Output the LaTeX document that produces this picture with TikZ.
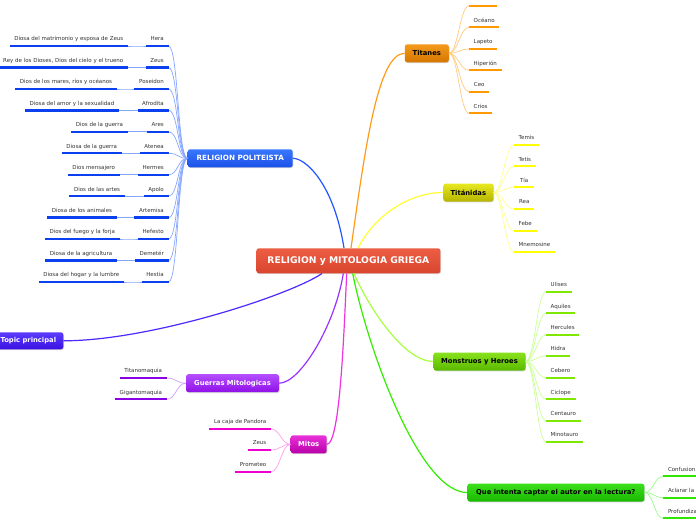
\documentclass[tikz,border=0pt]{standalone}
\usepackage{fontspec}
\setmainfont{DejaVu Sans}
\usetikzlibrary{shadows}
\definecolor{cenT}{HTML}{EC5E44}\definecolor{cenB}{HTML}{D9452E}
\definecolor{rpT}{HTML}{3A78FF}\definecolor{rpB}{HTML}{1A50E8}
\definecolor{rpL}{HTML}{2255FF}\definecolor{rpU}{HTML}{0A40F0}\definecolor{rpS}{HTML}{86A6FF}
\definecolor{tiT}{HTML}{F39A1C}\definecolor{tiB}{HTML}{D67600}
\definecolor{tiL}{HTML}{FF9A1A}\definecolor{tiU}{HTML}{FF9900}\definecolor{tiS}{HTML}{FFCB80}
\definecolor{tdT}{HTML}{E8E820}\definecolor{tdB}{HTML}{B5B500}
\definecolor{tdL}{HTML}{FFFF33}\definecolor{tdU}{HTML}{FFFF00}\definecolor{tdS}{HTML}{FFFF90}
\definecolor{mhT}{HTML}{88E21C}\definecolor{mhB}{HTML}{5AB800}
\definecolor{mhL}{HTML}{A6FF40}\definecolor{mhU}{HTML}{7FE800}\definecolor{mhS}{HTML}{CCFF99}
\definecolor{qiT}{HTML}{3CE01C}\definecolor{qiB}{HTML}{18B800}
\definecolor{qiL}{HTML}{33EE00}\definecolor{qiU}{HTML}{33E600}\definecolor{qiS}{HTML}{99FF88}
\definecolor{tpT}{HTML}{5C3CFF}\definecolor{tpB}{HTML}{3A10E0}\definecolor{tpL}{HTML}{4A2AFF}
\definecolor{guT}{HTML}{B44EFF}\definecolor{guB}{HTML}{9010E6}
\definecolor{guL}{HTML}{9933FF}\definecolor{guU}{HTML}{8A00E6}\definecolor{guS}{HTML}{D0A0FF}
\definecolor{miT}{HTML}{EA32DA}\definecolor{miB}{HTML}{B800A8}
\definecolor{miL}{HTML}{EE33E0}\definecolor{miU}{HTML}{F000D0}\definecolor{miS}{HTML}{FFA0F0}
\definecolor{leaftext}{HTML}{333333}
\tikzset{
  topic/.style={rounded corners=2.5pt, inner sep=0pt, minimum height=18pt,
    font=\bfseries\fontsize{6.8}{8}\selectfont,
    drop shadow={opacity=0.3, shadow xshift=0.7pt, shadow yshift=-0.9pt}},
  leaf/.style={font=\fontsize{5.5}{6.5}\selectfont, text=leaftext, inner xsep=4.5pt,
    inner ysep=3.8pt, text height=4.2pt, text depth=1.2pt, minimum width=20pt},
  ul/.style={line width=2.3pt},
  mainline/.style={line width=1.2pt},
  sub/.style={line width=0.7pt}
}
\begin{document}
\begin{tikzpicture}[x=1pt,y=-1pt]
\useasboundingbox (0,0) rectangle (696,520);
\fill[white] (0,0) rectangle (696,520);
\clip (0,0) rectangle (696,520);

% main topic and branches
\node[topic, minimum width=184pt, minimum height=25pt, top color=cenT, bottom color=cenB,
  text=white, font=\bfseries\fontsize{9.2}{11}\selectfont] (c) at (348.4,260.8) {RELIGION y MITOLOGIA GRIEGA};
\node[topic, minimum width=105pt, top color=rpT, bottom color=rpB, text=white,
  font=\bfseries\fontsize{7.2}{8}\selectfont] (rp) at (240.2,158.3) {RELIGION POLITEISTA};
\node[topic, minimum width=44pt, top color=tiT, bottom color=tiB, text=black] (ti) at (426.8,53.3) {Titanes};
\node[topic, minimum width=50pt, top color=tdT, bottom color=tdB, text=black] (td) at (468.3,192.5) {Titánidas};
\node[topic, minimum width=92pt, top color=mhT, bottom color=mhB, text=black] (mh) at (479.5,361.5) {Monstruos y Heroes};
\node[topic, minimum width=177pt, top color=qiT, bottom color=qiB, text=black] (qi) at (555.8,492.5) {Que intenta captar el autor en la lectura?};
\node[topic, minimum width=70pt, minimum height=17pt, top color=tpT, bottom color=tpB, text=white] (tp) at (28.3,340.8) {Topic principal};
\node[topic, minimum width=93pt, top color=guT, bottom color=guB, text=white] (gu) at (232.5,383.2) {Guerras Mitologicas};
\node[topic, minimum width=36pt, top color=miT, bottom color=miB, text=white] (mi) at (308.7,444.3) {Mitos};

% main connectors
\draw[mainline,rpL] ([xshift=-4.4pt]c.north) .. controls +(-10,-63.3) and +(13.3,0) .. (rp.east);
\draw[mainline,tiL] ([xshift=2.6pt]c.north) .. controls +(14,-98.3) and +(-27,0) .. (ti.west);
\draw[mainline,tdL] ([xshift=9.6pt]c.north) .. controls +(17,-33.3) and +(-33.3,0) .. (td.west);
\draw[mainline,tpL] ([xshift=-26.4pt]c.south) .. controls +(-32,21.7) and +(86.7,0) .. (tp.east);
\draw[mainline,guL] ([xshift=-5.1pt]c.south) .. controls +(-8.3,51.7) and +(21,0) .. (gu.east);
\draw[mainline,miL] ([xshift=-1.7pt]c.south) .. controls +(-2.7,56.7) and +(13.3,0) .. (mi.east);
\draw[mainline,qiL] ([xshift=4.3pt]c.south) .. controls +(15.3,76.7) and +(-47.3,0) .. (qi.west);
\draw[mainline,mhL] ([xshift=5.6pt]c.south) .. controls +(16,36.7) and +(-28.3,0) .. (mh.west);

% RELIGION POLITEISTA leaves
\foreach \id/\yy/\nm/\dx/\desc in {
  hera/46/Hera/128/{Diosa del matrimonio y esposa de Zeus},
  zeus/67.5/Zeus/128/{Rey de los Dioses, Dios del cielo y el trueno},
  pos/89/Poseidon/116.7/{Dios de los mares, ríos y océanos},
  afr/110.4/Afrodita/119/{Diosa del amor y la sexualidad},
  ares/131.8/Ares/127.7/{Dios de la guerra},
  ate/153.3/Atenea/121.7/{Diosa de la guerra},
  her/174.7/Hermes/119.7/{Dios mensajero},
  apo/196.2/Apolo/124.7/{Dios de las artes},
  art/217.6/Artemisa/116.7/{Diosa de los animales},
  hef/239/Hefesto/119.7/{Dios del fuego y la forja},
  dem/260.5/Demetér/117/{Diosa de la agricultura},
  hes/282/Hestia/124/{Diosa del hogar y la lumbre}}{
  \node[leaf,anchor=south east] (\id) at (168.5,\yy) {\nm};
  \node[leaf,anchor=south east] (\id-d) at (\dx,\yy) {\desc};
  \draw[sub,rpS] (rp.west) .. controls +(-10,0) and +(10,0) .. (\id.south east);
  \draw[sub,rpS] (\id.south west) .. controls +(-6,0) and +(6,0) .. (\id-d.south east);
  \draw[ul,rpU] (\id.south west) -- (\id.south east);
  \draw[ul,rpU] (\id-d.south west) -- (\id-d.south east);
}

% Titanes leaves
\foreach \id/\yy/\nm in {cro/5.7/Cronos, oce/27.3/Océano, lap/49/Lapeto,
  hip/70.3/Hiperión, ceo/91.7/Ceo, cri/113.3/Crios}{
  \node[leaf,anchor=south west] (\id) at (469,\yy) {\nm};
  \draw[sub,tiS] (ti.east) .. controls +(9,0) and +(-9,0) .. (\id.south west);
  \draw[ul,tiU] (\id.south west) -- (\id.south east);
}

% Titanidas leaves
\foreach \id/\yy/\nm in {tem/144.7/Temis, tet/166.3/Tetis, tia/187.3/Tía,
  rea/209/Rea, feb/231/Febe, mne/252/Mnemosine}{
  \node[leaf,anchor=south west] (\id) at (514,\yy) {\nm};
  \draw[sub,tdS] (td.east) .. controls +(9,0) and +(-9,0) .. (\id.south west);
  \draw[ul,tdU] (\id.south west) -- (\id.south east);
}

% Monstruos y Heroes leaves
\foreach \id/\yy/\nm in {uli/291.7/Ulises, aqu/313.3/Aquiles, hrc/335/Hercules,
  hid/356/Hidra, ceb/377.7/Cebero, cic/399.3/Ciclope, cen/420.7/Centauro, min/442/Minotauro}{
  \node[leaf,anchor=south west] (\id) at (546,\yy) {\nm};
  \draw[sub,mhS] (mh.east) .. controls +(9,0) and +(-9,0) .. (\id.south west);
  \draw[ul,mhU] (\id.south west) -- (\id.south east);
}

% Que intenta leaves
\foreach \id/\yy/\nm in {con/476.3/Confusion, acl/497.7/{Aclarar la}, pro/518.3/Profundizar}{
  \node[leaf,anchor=south west] (\id) at (663.3,\yy) {\nm};
  \draw[sub,qiS] (qi.east) .. controls +(9,0) and +(-9,0) .. (\id.south west);
  \draw[ul,qiU] (\id.south west) -- (\id.south east);
}

% Guerras leaves
\foreach \id/\yy/\nm in {tit/378/Titanomaquia, gig/399.3/Gigantomaquia}{
  \node[leaf,anchor=south east] (\id) at (166.7,\yy) {\nm};
  \draw[sub,guS] (gu.west) .. controls +(-9,0) and +(9,0) .. (\id.south east);
  \draw[ul,guU] (\id.south west) -- (\id.south east);
}

% Mitos leaves
\foreach \id/\yy/\nm in {caj/429/{La caja de Pandora}, mze/450/Zeus, prm/471.7/Prometeo}{
  \node[leaf,anchor=south east] (\id) at (271,\yy) {\nm};
  \draw[sub,miS] (mi.west) .. controls +(-9,0) and +(9,0) .. (\id.south east);
  \draw[ul,miU] (\id.south west) -- (\id.south east);
}
\end{tikzpicture}
\end{document}
